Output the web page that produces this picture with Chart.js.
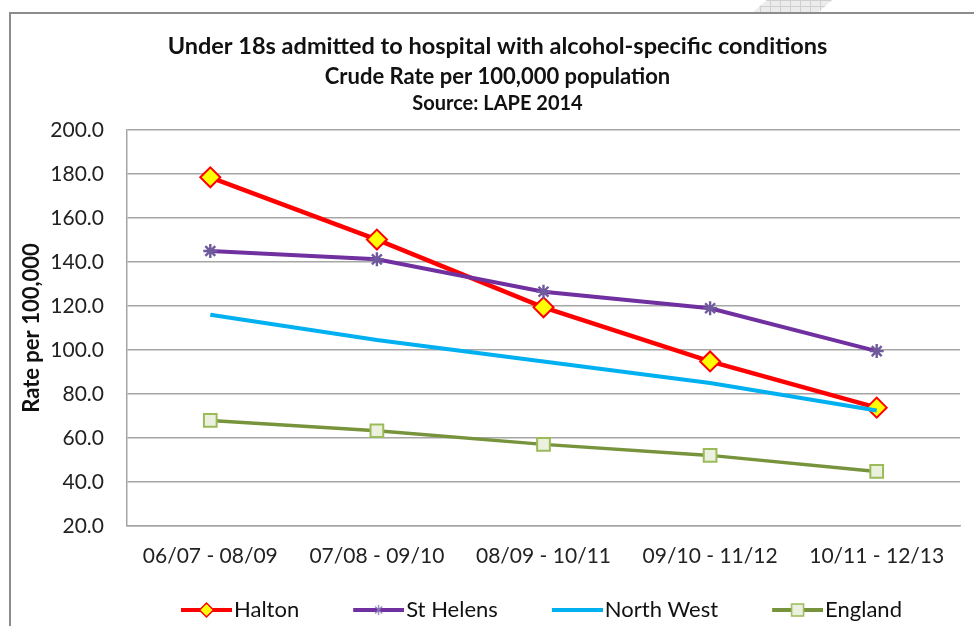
<!DOCTYPE html>
<html><head><meta charset="utf-8">
<script src="https://cdn.jsdelivr.net/npm/chart.js@4/dist/chart.umd.min.js"></script>
<style>
html,body{margin:0;padding:0;width:974px;height:626px;overflow:hidden;background:#fff;}
#frame{position:absolute;left:9px;top:12px;width:1000px;height:700px;border-left:2px solid #8c8c8c;border-top:2px solid #8c8c8c;}
#deco{position:absolute;left:750px;top:0;width:82px;height:13px;clip-path:polygon(2px 13px,17px 0,82px 0,68px 13px);background-color:#ececec;background-image:linear-gradient(#cfcfcf 1px,transparent 1px),linear-gradient(90deg,#cfcfcf 1px,transparent 1px);background-size:10px 6px;}
#wrap{position:absolute;left:0;top:0;width:995px;height:626px;}
</style></head><body>
<div id="deco"></div><div id="frame"></div>
<div id="wrap"><canvas id="c" width="995" height="626"></canvas></div>
<script>
// ---- data ----
const categories = ['06/07 - 08/09','07/08 - 09/10','08/09 - 10/11','09/10 - 11/12','10/11 - 12/13'];
const seriesNames = ['Halton','St Helens','North West','England'];
const halton    = [178.5, 150.2, 119.4, 94.8, 73.8];
const stHelens  = [145.0, 141.2, 126.5, 119.0, 99.5];
const northWest = [116.0, 104.5, 94.8, 85.0, 72.5];
const england   = [68.0, 63.3, 57.1, 52.1, 44.8];
const yMin = 20, yMax = 200, yStep = 20;
const titleLine1 = 'Under 18s admitted to hospital with alcohol-specific conditions';
const titleLine2 = 'Crude Rate per 100,000 population';
const titleLine3 = 'Source: LAPE 2014';
const yAxisTitle = 'Rate per 100,000';

// ---- legend icons (line + marker) ----
const LEG_FS = 22, LEG_W = 86, LEG_PAD = 10, LEG_LINE = 51;
function makeIcon(lineColor, lineWidth, drawMarker){
  const lineRight = LEG_W + LEG_FS/2 - 2, lineLeft = lineRight - LEG_LINE, cx = LEG_W/2;
  const half = Math.max(cx - lineLeft, lineRight - cx);
  const c = document.createElement('canvas');
  c.width = Math.ceil(half*2); c.height = 22;
  const g = c.getContext('2d');
  const l = lineLeft - cx + half, r = lineRight - cx + half, y = 11;
  g.strokeStyle = lineColor; g.lineWidth = lineWidth;
  g.beginPath(); g.moveTo(l, y); g.lineTo(r, y); g.stroke();
  if (drawMarker) drawMarker(g, (l + r)/2, y);
  return c;
}
function diamond(g, x, y){
  g.beginPath(); g.moveTo(x-7,y); g.lineTo(x,y-7); g.lineTo(x+7,y); g.lineTo(x,y+7); g.closePath();
  g.fillStyle='#FFFF00'; g.fill(); g.strokeStyle='#FF0000'; g.lineWidth=1.5; g.stroke();
}
function star(g, x, y){
  g.strokeStyle='#8a78b8'; g.lineWidth=1.2; g.beginPath();
  const r=5;
  g.moveTo(x, y-r); g.lineTo(x, y+r);
  g.moveTo(x-r*0.7, y-r*0.7); g.lineTo(x+r*0.7, y+r*0.7);
  g.moveTo(x-r*0.7, y+r*0.7); g.lineTo(x+r*0.7, y-r*0.7);
  g.stroke();
}
function square(g, x, y){
  g.fillStyle='#EBF1DE'; g.fillRect(x-6, y-6, 12, 12);
  g.strokeStyle='#9BBB59'; g.lineWidth=1.5; g.strokeRect(x-6, y-6, 12, 12);
}

const sourcePlugin = {
  id: 'sourceLine',
  afterDraw(chart){
    const ctx = chart.ctx;
    ctx.save();
    ctx.font = 'bold 20px Lato';
    ctx.fillStyle = '#111';
    ctx.textAlign = 'center';
    ctx.textBaseline = 'middle';
    ctx.fillText(titleLine3, chart.width/2, chart.chartArea.top - 26);
    ctx.restore();
  }
};

function build(){
  const icons = [
    makeIcon('#FF0000', 4, diamond),
    makeIcon('#7030A0', 4, star),
    makeIcon('#00B0F0', 4, null),
    makeIcon('#77933C', 4, square)
  ];
  new Chart(document.getElementById('c'), {
    type: 'line',
    data: {
      labels: categories,
      datasets: [
        { label: seriesNames[0], data: halton, order: 4, borderColor: '#FF0000', borderWidth: 4.5,
          pointStyle: 'rectRot', pointRadius: 10, pointBackgroundColor: '#FFFF00', pointBorderColor: '#FF0000', pointBorderWidth: 2 },
        { label: seriesNames[1], data: stHelens, order: 3, borderColor: '#7030A0', borderWidth: 4,
          pointStyle: 'star', pointRadius: 7, pointBackgroundColor: '#7a62aa', pointBorderColor: '#6f5a9e', pointBorderWidth: 2.4 },
        { label: seriesNames[2], data: northWest, order: 2, borderColor: '#00B0F0', borderWidth: 4, pointRadius: 0 },
        { label: seriesNames[3], data: england, order: 1, borderColor: '#77933C', borderWidth: 3.5,
          pointStyle: 'rect', pointRadius: 9, pointBackgroundColor: '#EBF1DE', pointBorderColor: '#9BBB59', pointBorderWidth: 2 }
      ]
    },
    options: {
      responsive: false,
      animation: false,
      devicePixelRatio: 1,
      layout: { padding: { left: 0, right: 0, top: 0, bottom: -5 } },
      plugins: {
        tooltip: { enabled: false },
        title: { display: true, text: titleLine1, color: '#111', font: { family: 'Lato', size: 23.5, weight: 'bold', lineHeight: 1.2 }, padding: { top: 31.9, bottom: 0 } },
        subtitle: { display: true, text: titleLine2, color: '#111', font: { family: 'Lato', size: 22, weight: 'bold', lineHeight: 1.2 }, padding: { top: 3.7, bottom: 39.8 } },
        legend: {
          position: 'bottom', align: 'start', fullSize: false,
          labels: {
            usePointStyle: true, pointStyleWidth: LEG_W, padding: LEG_PAD, color: '#111',
            font: { family: 'Lato', size: LEG_FS },
            sort: (a, b) => a.datasetIndex - b.datasetIndex,
            generateLabels(chart){
              const items = Chart.defaults.plugins.legend.labels.generateLabels(chart);
              items.forEach(it => { it.pointStyle = icons[it.datasetIndex]; });
              return items;
            }
          }
        }
      },
      scales: {
        x: {
          offset: true,
          grid: { display: false, drawTicks: false },
          border: { display: true, color: '#a6a6a6', width: 1.5 },
          ticks: { color: '#222', padding: 17.4, font: { family: 'Lato', size: 21 }, maxRotation: 0, autoSkip: false },
          afterFit(s){ s.height = 73 - LEG_PAD; }
        },
        y: {
          position: 'left',
          min: yMin, max: yMax,
          grid: { color: '#a6a6a6', lineWidth: 1.5, drawTicks: false },
          border: { display: true, color: '#a6a6a6', width: 1.5 },
          ticks: { stepSize: yStep, color: '#222', padding: 23, font: { family: 'Lato', size: 21 }, callback: v => Number(v).toFixed(1) },
          title: { display: true, text: yAxisTitle, color: '#111', font: { family: 'Lato', size: 22, weight: 'bold', lineHeight: 1.2 }, padding: { top: 18.8, bottom: 0 } },
          afterFit(s){ s.width = 127; }
        },
        y2: {
          position: 'right',
          display: true,
          grid: { display: false, drawTicks: false },
          border: { display: false },
          ticks: { display: false },
          afterFit(s){ s.width = 35; }
        }
      }
    },
    plugins: [sourcePlugin]
  });
}
Promise.all([document.fonts.load('bold 20px Lato'), document.fonts.load('20px Lato')]).then(build, build);
</script>
</body></html>
